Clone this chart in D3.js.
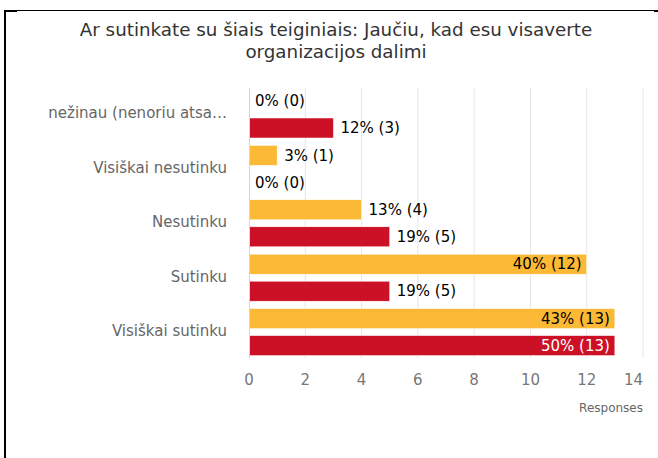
<!DOCTYPE html>
<html>
<head>
<meta charset="utf-8">
<script src="https://cdn.jsdelivr.net/npm/d3@7"></script>
<style>
  body { margin: 0; background: #fff; }
  svg { display: block; font-family: "DejaVu Sans", sans-serif; }
</style>
</head>
<body>
<svg width="658" height="458"></svg>
<script>
const categories = ["nežinau (nenoriu atsa…", "Visiškai nesutinku", "Nesutinku", "Sutinku", "Visiškai sutinku"]
const yellowCounts = [0, 1, 4, 12, 13]
const yellowPct = [0, 3, 13, 40, 43]
const redCounts = [3, 0, 5, 5, 13]
const redPct = [12, 0, 19, 19, 50]
const xTicks = [0, 2, 4, 6, 8, 10, 12, 14]
const titleLines = ["Ar sutinkate su šiais teiginiais: Jaučiu, kad esu visaverte", "organizacijos dalimi"]

const series = [
    {name: "a", color: "#fbb935", counts: yellowCounts, pct: yellowPct, offset: 3, inText: "#000"},
    {name: "b", color: "#cc1126", counts: redCounts, pct: redPct, offset: 30, inText: "#fff"}
]

let margin = {top: 88, left: 249, right: 15, bottom: 100}
const width = 658, height = 458
let plotW = 643 - margin.left,
    plotH = 360 - margin.top

const svg = d3.select("svg")

// frame
svg.append("line").attr("x1", 4).attr("x2", 655).attr("y1", 10.5).attr("y2", 10.5)
    .attr("stroke", "#000").attr("stroke-width", 1.2)
svg.append("line").attr("x1", 5).attr("x2", 5).attr("y1", 10).attr("y2", 458)
    .attr("stroke", "#000").attr("stroke-width", 2)
svg.append("rect").attr("x", 4).attr("y", 10).attr("width", 13).attr("height", 2).attr("fill", "#000")
svg.append("rect").attr("x", 654).attr("y", 10).attr("width", 4).attr("height", 2).attr("fill", "#000")

// title
svg.append("text")
    .attr("x", 336)
    .attr("y", 36)
    .attr("font-size", "18.3px")
    .attr("fill", "#333")
    .attr("text-anchor", "middle")
    .selectAll("tspan")
    .data(titleLines)
    .join("tspan")
        .attr("x", 336)
        .attr("dy", (d, i) => i == 0 ? 0 : 22)
        .text(d => d)

const g = svg.append("g")
    .attr("transform", `translate(${margin.left}, ${margin.top})`)

const x = d3.scaleLinear()
    .domain([0, 14])
    .range([0, plotW])

const y = d3.scaleBand()
    .domain(categories)
    .range([0, plotH])

// grid
g.selectAll(".grid")
    .data(xTicks.slice(1))
    .join("line")
        .attr("x1", d => x(d)).attr("x2", d => x(d))
        .attr("y1", 0).attr("y2", plotH - 2)
        .attr("stroke", "#e6e6e6")

// bars
series.forEach(s => {
    g.selectAll(".bar-" + s.name)
        .data(categories)
        .join("rect")
            .attr("x", 0)
            .attr("y", d => y(d) + s.offset)
            .attr("width", (d, i) => x(s.counts[i]))
            .attr("height", 20)
            .attr("fill", s.color)
            .attr("stroke", "#fff")
            .attr("stroke-width", 0.5)

    g.selectAll(".lab-" + s.name)
        .data(categories)
        .join("text")
            .attr("font-size", "15px")
            .attr("dy", "0.35em")
            .attr("y", d => y(d) + s.offset + 10)
            .each(function(d, i) {
                const inside = s.counts[i] >= 12
                d3.select(this)
                    .attr("x", inside ? x(s.counts[i]) - 5 : x(s.counts[i]) + (s.counts[i] == 0 ? 6 : 7))
                    .attr("text-anchor", inside ? "end" : "start")
                    .attr("fill", inside ? s.inText : "#000")
                    .text(`${s.pct[i]}% (${s.counts[i]})`)
            })
})

// left axis line
g.append("line")
    .attr("x1", 0.5).attr("x2", 0.5)
    .attr("y1", 0).attr("y2", plotH - 2)
    .attr("stroke", "#ccd6eb")

// category labels
g.selectAll(".cat")
    .data(categories)
    .join("text")
        .attr("x", -22)
        .attr("y", d => y(d) + y.bandwidth() / 2 - 2)
        .attr("dy", "0.35em")
        .attr("text-anchor", "end")
        .attr("font-size", "15px")
        .attr("fill", "#666")
        .text(d => d)

// x tick labels
g.selectAll(".tick")
    .data(xTicks)
    .join("text")
        .attr("x", d => d == 14 ? x(d) : x(d))
        .attr("y", plotH + 25)
        .attr("text-anchor", d => d == 14 ? "end" : "middle")
        .attr("font-size", "15px")
        .attr("fill", "#777")
        .text(d => d)

g.append("text")
    .attr("x", plotW)
    .attr("y", plotH + 52)
    .attr("text-anchor", "end")
    .attr("font-size", "12px")
    .attr("fill", "#666")
    .text("Responses")
</script>
</body>
</html>
